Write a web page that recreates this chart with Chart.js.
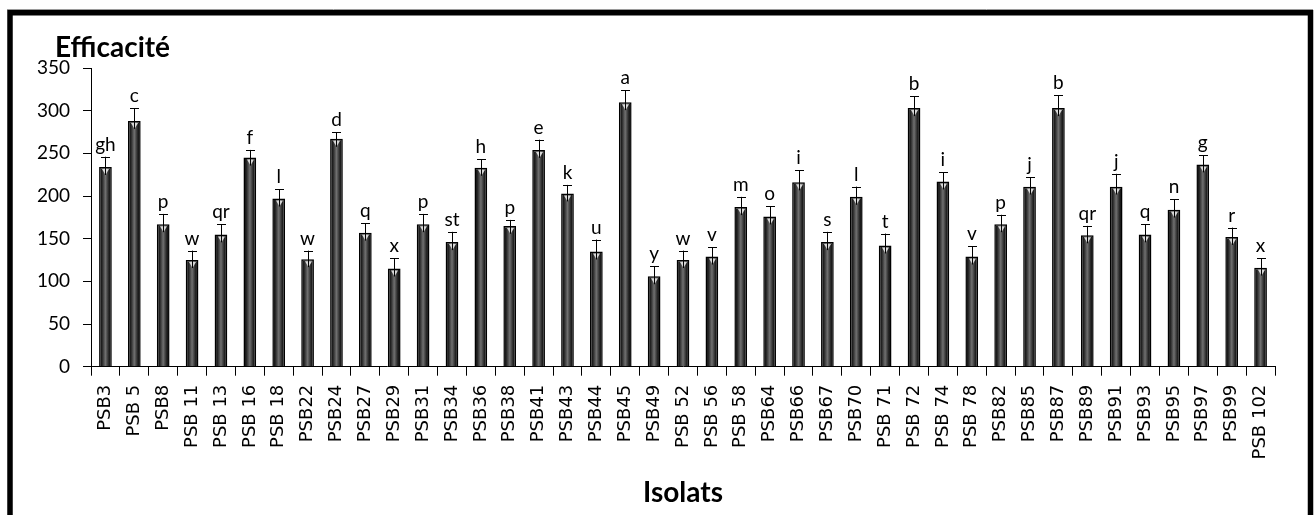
<!DOCTYPE html>
<html>
<head>
<meta charset="utf-8">
<script src="https://cdn.jsdelivr.net/npm/chart.js@4/dist/chart.umd.min.js"></script>
<style>
  html, body { margin: 0; padding: 0; background: #fff; }
  canvas { display: block; }
</style>
</head>
<body>
<canvas id="c" width="1314" height="515"></canvas>
<script>
// Isolates and their efficiency (mean, upper error, significance group)
const isolats = [
  "PSB3", "PSB 5", "PSB8", "PSB 11", "PSB 13", "PSB 16", "PSB 18", "PSB22", "PSB24", "PSB27",
  "PSB29", "PSB31", "PSB34", "PSB36", "PSB38", "PSB41", "PSB43", "PSB44", "PSB45", "PSB49",
  "PSB 52", "PSB 56", "PSB 58", "PSB64", "PSB66", "PSB67", "PSB70", "PSB 71", "PSB 72", "PSB 74",
  "PSB 78", "PSB82", "PSB85", "PSB87", "PSB89", "PSB91", "PSB93", "PSB95", "PSB97", "PSB99",
  "PSB 102"
];
const efficacite = [
  234, 288, 167, 125, 155, 245, 197, 126, 267, 157,
  115, 167, 146, 233, 165, 254, 203, 135, 310, 106,
  125, 129, 187, 176, 216, 146, 199, 142, 303, 217,
  129, 167, 211, 303, 154, 211, 155, 184, 237, 152,
  116
];
const ecart = [
  12, 15, 12, 11, 12, 9, 11, 10, 8, 11,
  12, 12, 12, 10, 7, 12, 10, 14, 14, 12,
  11, 11, 12, 12, 14, 12, 12, 14, 14, 11,
  12, 11, 11, 15, 11, 15, 12, 12, 11, 11,
  11
];
const groupes = [
  "gh", "c", "p", "w", "qr", "f", "l", "w", "d", "q",
  "x", "p", "st", "h", "p", "e", "k", "u", "a", "y",
  "w", "v", "m", "o", "i", "s", "l", "t", "b", "i",
  "v", "p", "j", "b", "qr", "j", "q", "n", "g", "r",
  "x"
];
const yMin = 0;
const yMax = 350;
const yStep = 50;

const BAR_HALF = 6.3;

// Dark bar with a lighter vertical band through its middle
function barFill(ctx) {
  const chart = ctx.chart;
  const xs = chart.scales && chart.scales.x;
  if (!xs || ctx.type !== 'data') return '#3a3a3a';
  const cx = xs.getPixelForValue(ctx.dataIndex);
  if (!Number.isFinite(cx)) return '#3a3a3a';
  const g = chart.ctx.createLinearGradient(cx - BAR_HALF, 0, cx + BAR_HALF, 0);
  g.addColorStop(0, '#050505');
  g.addColorStop(0.22, '#222');
  g.addColorStop(0.5, '#707070');
  g.addColorStop(0.78, '#222');
  g.addColorStop(1, '#050505');
  return g;
}

// Error whiskers, small marker at the bar top and group letters
const errorBars = {
  id: 'errorBars',
  afterDatasetsDraw(chart) {
    const { ctx, scales: { y } } = chart;
    const meta = chart.getDatasetMeta(0);
    ctx.save();
    meta.data.forEach((bar, i) => {
      const top = y.getPixelForValue(efficacite[i] + ecart[i]);
      const x = Math.round(bar.x) + 0.5;
      const by = bar.y;
      // marker
      ctx.fillStyle = '#d8d8d8';
      ctx.beginPath();
      ctx.moveTo(x - 3.5, by + 2);
      ctx.lineTo(x + 3.5, by + 2);
      ctx.lineTo(x, by + 8);
      ctx.closePath();
      ctx.fill();
      // whisker
      ctx.strokeStyle = '#000';
      ctx.lineWidth = 1;
      ctx.beginPath();
      ctx.moveTo(x, by + 8);
      ctx.lineTo(x, top);
      ctx.moveTo(x - 4.5, Math.round(top) + 0.5);
      ctx.lineTo(x + 4.5, Math.round(top) + 0.5);
      ctx.stroke();
      // letter
      ctx.fillStyle = '#000';
      ctx.font = '19px Lato';
      ctx.textAlign = 'center';
      ctx.textBaseline = 'alphabetic';
      ctx.fillText(groupes[i], bar.x, top - 6);
    });
    ctx.restore();
  }
};

// Axis titles and the outer frame
const decor = {
  id: 'decor',
  afterDraw(chart) {
    const ctx = chart.ctx;
    ctx.save();
    ctx.fillStyle = '#000';
    ctx.font = 'bold 28px Lato';
    ctx.textAlign = 'left';
    ctx.textBaseline = 'alphabetic';
    ctx.fillText('Efficacité', 55, 57);
    ctx.textAlign = 'center';
    ctx.fillText('Isolats', 683, 502);

    ctx.strokeStyle = '#9a9a9a';
    ctx.lineWidth = 1;
    ctx.beginPath();
    ctx.moveTo(7, 9.5);
    ctx.lineTo(1313, 9.5);
    ctx.stroke();

    ctx.strokeStyle = '#000';
    ctx.lineWidth = 5.5;
    ctx.beginPath();
    ctx.moveTo(10, 530);
    ctx.lineTo(10, 12.75);
    ctx.lineTo(1310.5, 12.75);
    ctx.lineTo(1310.5, 530);
    ctx.stroke();
    ctx.restore();
  }
};

new Chart(document.getElementById('c'), {
  type: 'bar',
  data: {
    labels: isolats,
    datasets: [{
      data: efficacite,
      backgroundColor: barFill,
      borderColor: '#000',
      borderWidth: 1.5,
      barPercentage: 0.44,
      categoryPercentage: 1.0
    }]
  },
  options: {
    responsive: false,
    devicePixelRatio: 1,
    animation: false,
    layout: { padding: { top: 68, right: 39, bottom: 0, left: 0 } },
    plugins: {
      legend: { display: false },
      tooltip: { enabled: false },
      title: { display: false }
    },
    scales: {
      x: {
        grid: { display: true, drawOnChartArea: false, offset: true, tickLength: 9, color: '#000', lineWidth: 1 },
        border: { display: true, color: '#000', width: 1 },
        ticks: {
          autoSkip: false,
          minRotation: 90,
          maxRotation: 90,
          padding: 9,
          color: '#000',
          font: { family: 'DejaVu Sans', size: 18 }
        },
        afterFit(scale) { scale.height = 148.3; }
      },
      y: {
        min: yMin,
        max: yMax,
        grid: { display: true, drawOnChartArea: false, tickLength: 8, color: '#000', lineWidth: 1 },
        border: { display: true, color: '#000', width: 1 },
        ticks: {
          stepSize: yStep,
          padding: 13,
          color: '#000',
          font: { family: 'Lato', size: 19 }
        },
        afterFit(scale) { scale.width = 91; }
      }
    }
  },
  plugins: [errorBars, decor]
});
</script>
</body>
</html>
